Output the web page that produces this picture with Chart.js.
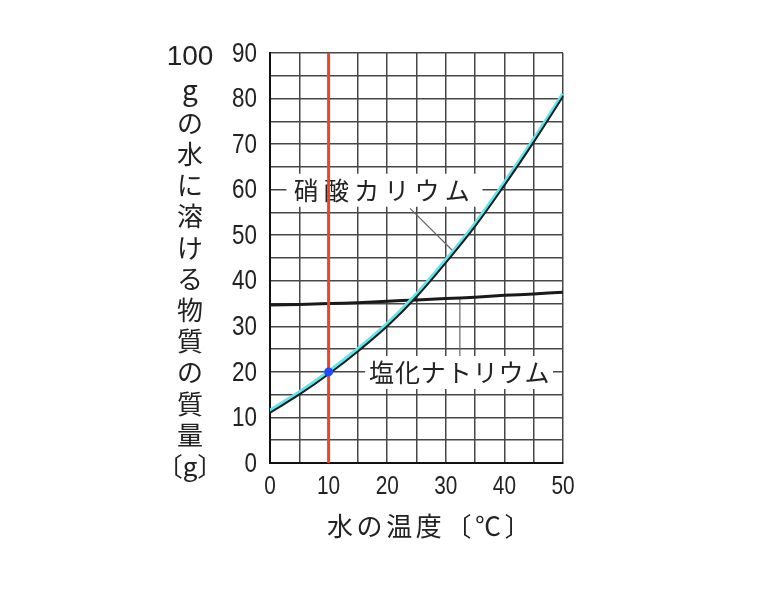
<!DOCTYPE html>
<html>
<head>
<meta charset="utf-8">
<script src="https://cdn.jsdelivr.net/npm/chart.js@4"></script>
<style>
  html, body { margin: 0; padding: 0; background: #fff; }
  #wrap { width: 768px; height: 592px; }
</style>
</head>
<body>
<div id="wrap"><canvas id="solubilityChart" width="768" height="592"></canvas></div>
<script>
const temps = [0, 5, 10, 15, 20, 25, 30, 35, 40, 45, 50];
const kno3 = [11.5, 15.5, 20, 25, 30.5, 37, 44.5, 52.5, 61.5, 71, 81];
const nacl = [34.7, 34.8, 35.0, 35.2, 35.5, 35.8, 36.1, 36.4, 36.8, 37.1, 37.5];
const markTemp = 10;
const markValue = 20;
const yTitleChars = ["の", "水", "に", "溶", "け", "る", "物", "質", "の", "質", "量", "〔g〕"];

const toXY = (xs, ys) => xs.map((x, i) => ({ x: x, y: ys[i] }));

const jpFont = '"Noto Sans CJK JP", "Noto Sans", sans-serif';
const numFont = '"Liberation Sans", Arial, sans-serif';

function spaced(ctx, chars, cx0, cy, step) {
    chars.forEach((c, i) => ctx.fillText(c, cx0 + i * step, cy));
}

// narrow digits like the printed figure
function narrowText(ctx, text, x, y, sx) {
    ctx.save();
    ctx.translate(x, y);
    ctx.scale(sx, 1);
    ctx.fillText(text, 0, 0);
    ctx.restore();
}

const overlay = {
    id: "overlay",
    beforeDatasetsDraw(chart) {
        const { ctx, scales: { x, y } } = chart;
        ctx.save();
        // leader lines
        ctx.strokeStyle = "#666";
        ctx.lineWidth = 1.2;
        ctx.beginPath();
        ctx.moveTo(x.getPixelForValue(23.9), y.getPixelForValue(55.9));
        ctx.lineTo(x.getPixelForValue(31.1), y.getPixelForValue(46.7));
        ctx.moveTo(x.getPixelForValue(32.4), y.getPixelForValue(36.2));
        ctx.lineTo(x.getPixelForValue(32.4), y.getPixelForValue(23.2));
        ctx.stroke();

        // label boxes
        ctx.fillStyle = "#fff";
        ctx.fillRect(x.getPixelForValue(2.8), y.getPixelForValue(63.5), 196, 33);
        ctx.fillRect(x.getPixelForValue(16.2), y.getPixelForValue(23.5), 188, 33);

        ctx.fillStyle = "#222";
        ctx.font = "25px " + jpFont;
        ctx.textAlign = "center";
        ctx.textBaseline = "middle";
        spaced(ctx, [..."硝酸カリウム"], x.getPixelForValue(4.05) + 12.5, y.getPixelForValue(59.9), 30.2);
        spaced(ctx, [..."塩化ナトリウム"], x.getPixelForValue(16.9) + 12.5, y.getPixelForValue(19.8), 25.9);
        ctx.restore();
    },
    afterDraw(chart) {
        const { ctx, scales: { x, y } } = chart;
        ctx.save();
        ctx.fillStyle = "#222";
        ctx.textBaseline = "middle";

        // tick labels
        ctx.font = "28px " + numFont;
        ctx.textAlign = "right";
        y.ticks.forEach(t => {
            if (t.value % 10 === 0) narrowText(ctx, String(t.value), x.left - 13, y.getPixelForValue(t.value) + 1, 0.8);
        });
        ctx.font = "26px " + numFont;
        ctx.textAlign = "center";
        x.ticks.forEach(t => {
            if (t.value % 10 === 0) narrowText(ctx, String(t.value), x.getPixelForValue(t.value), 487, 0.8);
        });

        // y title, stacked vertically
        ctx.font = "28px " + numFont;
        ctx.fillText("100", 190, 57);
        ctx.font = "28px " + jpFont;
        ctx.fillText("g", 190, 89);
        ctx.font = "26px " + jpFont;
        yTitleChars.forEach((c, i) => ctx.fillText(c, 190, 123 + i * 31.2));
        // x title
        spaced(ctx, [..."水の温度〔℃〕"], 340, 526, 29.6);
        ctx.restore();
    }
};

const shiftBlack = {
    id: "shiftBlack",
    beforeDatasetDraw(chart, args) {
        if (args.meta.dataset && chart.data.datasets[args.index].shift) {
            chart.ctx.save();
            chart.ctx.translate(0.5, 1.8);
        }
    },
    afterDatasetDraw(chart, args) {
        if (args.meta.dataset && chart.data.datasets[args.index].shift) chart.ctx.restore();
    }
};

new Chart(document.getElementById("solubilityChart"), {
    type: "line",
    data: {
        datasets: [
            {
                label: "point",
                data: [{ x: markTemp, y: markValue }],
                showLine: false,
                pointRadius: 4.5,
                pointBackgroundColor: "#1f4cff",
                pointBorderWidth: 0,
                order: 0
            },
            {
                label: "10℃",
                data: [{ x: markTemp, y: 0 }, { x: markTemp, y: 90 }],
                borderColor: "#ee4426",
                borderWidth: 3,
                pointRadius: 0,
                order: 1
            },
            {
                label: "硝酸カリウム edge",
                data: toXY(temps, kno3),
                borderColor: "#1a1a1a",
                borderWidth: 2,
                pointRadius: 0,
                tension: 0.4,
                shift: true,
                order: 2
            },
            {
                label: "硝酸カリウム",
                data: toXY(temps, kno3),
                borderColor: "#5ee8ee",
                borderWidth: 4,
                pointRadius: 0,
                tension: 0.4,
                order: 3
            },
            {
                label: "塩化ナトリウム",
                data: toXY(temps, nacl),
                borderColor: "#1a1a1a",
                borderWidth: 3,
                pointRadius: 0,
                tension: 0.4,
                order: 4
            }
        ]
    },
    options: {
        responsive: false,
        animation: false,
        layout: { padding: { left: 0, right: 205, top: 53, bottom: 0 } },
        plugins: {
            legend: { display: false },
            tooltip: { enabled: false }
        },
        scales: {
            x: {
                type: "linear",
                min: 0,
                max: 50,
                afterFit: s => { s.height = 129; },
                grid: { color: "#474747", lineWidth: 1.5, drawTicks: false },
                border: { color: "#111", width: 2 },
                ticks: {
                    stepSize: 5,
                    autoSkip: false,
                    maxRotation: 0,
                    minRotation: 0,
                    padding: 8,
                    color: "rgba(0,0,0,0)",
                    font: { family: numFont, size: 26 },
                    callback: v => v % 10 === 0 ? v : ""
                }
            },
            y: {
                min: 0,
                max: 90,
                afterFit: s => { s.width = 270; },
                grid: { color: "#474747", lineWidth: 1.5, drawTicks: false },
                border: { color: "#111", width: 2 },
                ticks: {
                    stepSize: 5,
                    autoSkip: false,
                    padding: 13,
                    color: "rgba(0,0,0,0)",
                    font: { family: numFont, size: 28 },
                    callback: v => v % 10 === 0 ? v : ""
                }
            }
        }
    },
    plugins: [overlay, shiftBlack]
});
</script>
</body>
</html>
